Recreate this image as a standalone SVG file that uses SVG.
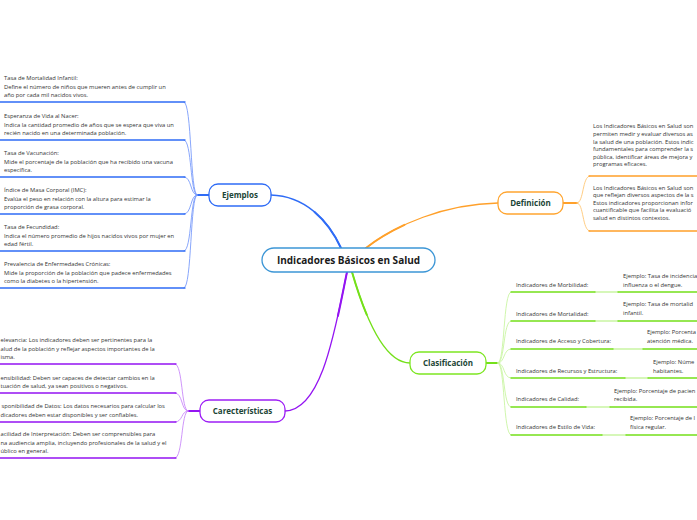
<svg xmlns="http://www.w3.org/2000/svg" width="697" height="520" viewBox="0 0 697 520">
<style>
  .bg{fill:#ffffff}
  .t{font-family:"Open Sans","Noto Sans",sans-serif;font-size:5.8px;fill:#333333}
  .nl{font-family:"Open Sans","Noto Sans",sans-serif;font-size:8px;font-weight:bold;fill:#1c4536;text-anchor:middle}
  .ct{font-family:"Open Sans","Noto Sans",sans-serif;font-size:10px;font-weight:bold;fill:#1a1a1a;text-anchor:middle}
  .box{fill:#ffffff;stroke-width:1.3}
  .c{fill:none;stroke-linecap:round}
  .thick{stroke-width:2;stroke-dasharray:45 1000}
  .blue{stroke:#2f6cf6}
  .blueL{stroke:#7b9cfa}
  .orange{stroke:#ffa02a}
  .orangeL{stroke:#ffc776}
  .green{stroke:#74e01a}
  .greenL{stroke:#c9f5a3}
  .purple{stroke:#9414f2}
  .purpleL{stroke:#c98af9}
</style>
<rect class="bg" x="0" y="0" width="697" height="520"/>

<g id="connectors">
  <!-- main branches -->
  <path class="c blue" stroke-width="1.3" d="M341,248 C328,220 305,196 271,195"/>
  <path class="c blue thick" d="M341,248 C328,220 305,196 271,195"/>
  <path class="c orange" stroke-width="1.3" d="M366,248 C395,225 445,204 498,203"/>
  <path class="c orange thick" d="M366,248 C395,225 445,204 498,203"/>
  <path class="c green" stroke-width="1.3" d="M352,272 C366,320 385,363 410,363"/>
  <path class="c green thick" d="M352,272 C366,320 385,363 410,363"/>
  <path class="c purple" stroke-width="1.3" d="M347,272 C335,330 322,410 285,411"/>
  <path class="c purple thick" d="M347,272 C335,330 322,410 285,411"/>

  <!-- Ejemplos children -->
  <path class="c blue" stroke-width="2" d="M197,195 L209,195"/>
  <g class="c blueL" stroke-width="0.9">
    <path d="M197,195 C190,195 192,102 184,102"/>
    <path d="M197,195 C190,195 192,140 184,140"/>
    <path d="M197,195 C190,195 192,177 184,177"/>
    <path d="M197,195 C190,195 192,214 184,214"/>
    <path d="M197,195 C190,195 192,251 184,251"/>
    <path d="M197,195 C190,195 192,288 184,288"/>
  </g>
  <g class="c blue" stroke-width="1.4">
    <path d="M0,102 L185,102"/>
    <path d="M0,140 L185,140"/>
    <path d="M0,177 L185,177"/>
    <path d="M0,214 L185,214"/>
    <path d="M0,251 L185,251"/>
    <path d="M0,288 L185,288"/>
  </g>

  <!-- Caracteristicas children -->
  <path class="c purple" stroke-width="2" d="M188,411 L200,411"/>
  <g class="c purpleL" stroke-width="0.9">
    <path d="M188,411 C181,411 183,364 175,364"/>
    <path d="M188,411 C181,411 183,393 175,393"/>
    <path d="M188,411 C181,411 183,422 175,422"/>
    <path d="M188,411 C181,411 183,458 175,458"/>
  </g>
  <g class="c purple" stroke-width="1.4">
    <path d="M0,364 L176,364"/>
    <path d="M0,393 L176,393"/>
    <path d="M0,422 L176,422"/>
    <path d="M0,458 L176,458"/>
  </g>

  <!-- Definicion children -->
  <path class="c orange" stroke-width="2" d="M563,203 L577,203"/>
  <g class="c orangeL" stroke-width="0.9">
    <path d="M577,203 C584,203 582,176 590,176"/>
    <path d="M577,203 C584,203 582,231 590,231"/>
  </g>
  <g class="c orange" stroke-width="1.4">
    <path d="M589,176 L697,176"/>
    <path d="M589,231 L697,231"/>
  </g>

  <!-- Clasificacion children -->
  <path class="c green" stroke-width="2" d="M486,363 L498,363"/>
  <g class="c greenL" stroke-width="0.9">
    <path d="M498,363 C505,363 503,292 511,292"/>
    <path d="M498,363 C505,363 503,321 511,321"/>
    <path d="M498,363 C505,363 503,349 511,349"/>
    <path d="M498,363 C505,363 503,378 511,378"/>
    <path d="M498,363 C505,363 503,407 511,407"/>
    <path d="M498,363 C505,363 503,435 511,435"/>
  </g>
  <g class="c greenL" stroke-width="1.4">
    <path d="M595,292 L618,292"/>
    <path d="M595,321 L618,321"/>
    <path d="M613,349 L643,349"/>
    <path d="M625,378 L648,378"/>
    <path d="M586,407 L610,407"/>
    <path d="M602,435 L626,435"/>
  </g>
  <g class="c green" stroke-width="1.4">
    <path d="M511,292 L595,292"/><path d="M618,292 L697,292"/>
    <path d="M511,321 L595,321"/><path d="M618,321 L697,321"/>
    <path d="M511,349 L613,349"/><path d="M643,349 L697,349"/>
    <path d="M511,378 L625,378"/><path d="M648,378 L697,378"/>
    <path d="M511,407 L586,407"/><path d="M610,407 L697,407"/>
    <path d="M511,435 L602,435"/><path d="M626,435 L697,435"/>
  </g>
</g>

<g id="central">
  <rect class="box" x="262" y="248" width="173" height="24" rx="12" stroke="#3c96d6"/>
  <text class="ct" x="348.5" y="263.5">Indicadores Básicos en Salud</text>
</g>

<g id="ejemplos">
  <rect class="box" x="209" y="184" width="62" height="22" rx="9" stroke="#2f6cf6"/>
  <text class="nl" x="240" y="198">Ejemplos</text>
</g>
<g id="definicion">
  <rect class="box" x="498" y="192" width="65" height="22" rx="9" stroke="#ffa530"/>
  <text class="nl" x="530.5" y="206">Definición</text>
</g>
<g id="clasificacion">
  <rect class="box" x="410" y="352" width="76" height="22" rx="9" stroke="#7de622"/>
  <text class="nl" x="448" y="366">Clasificación</text>
</g>
<g id="caracteristicas">
  <rect class="box" x="200" y="400" width="85" height="22" rx="9" stroke="#9d1ff5"/>
  <text class="nl" x="242.5" y="414">Carecterísticas</text>
</g>

<g id="ej-1"><text class="t" x="4" y="79.5">Tasa de Mortalidad Infantil:</text><text class="t" x="4" y="88.5">Define el número de niños que mueren antes de cumplir un</text><text class="t" x="4" y="96.5">año por cada mil nacidos vivos.</text></g>
<g id="ej-2"><text class="t" x="4" y="117.5">Esperanza de Vida al Nacer:</text><text class="t" x="4" y="126.5">Indica la cantidad promedio de años que se espera que viva un</text><text class="t" x="4" y="134.5">recién nacido en una determinada población.</text></g>
<g id="ej-3"><text class="t" x="4" y="154.5">Tasa de Vacunación:</text><text class="t" x="4" y="163.5">Mide el porcentaje de la población que ha recibido una vacuna</text><text class="t" x="4" y="171.5">específica.</text></g>
<g id="ej-4"><text class="t" x="4" y="191.5">Índice de Masa Corporal (IMC):</text><text class="t" x="4" y="200.5">Evalúa el peso en relación con la altura para estimar la</text><text class="t" x="4" y="208.5">proporción de grasa corporal.</text></g>
<g id="ej-5"><text class="t" x="4" y="228.5">Tasa de Fecundidad:</text><text class="t" x="4" y="237.5">Indica el número promedio de hijos nacidos vivos por mujer en</text><text class="t" x="4" y="245.5">edad fértil.</text></g>
<g id="ej-6"><text class="t" x="4" y="265.5">Prevalencia de Enfermedades Crónicas:</text><text class="t" x="4" y="274.5">Mide la proporción de la población que padece enfermedades</text><text class="t" x="4" y="282.5">como la diabetes o la hipertensión.</text></g>

<g id="car-1"><text class="t" x="0.5" y="342">elevancia: Los indicadores deben ser pertinentes para la</text><text class="t" x="0.5" y="351">alud de la población y reflejar aspectos importantes de la</text><text class="t" x="0.5" y="359">isma.</text></g>
<g id="car-2"><text class="t" x="0.5" y="379.5">ensibilidad: Deben ser capaces de detectar cambios en la</text><text class="t" x="0.5" y="388">tuación de salud, ya sean positivos o negativos.</text></g>
<g id="car-3"><text class="t" x="1.5" y="408">sponibilidad de Datos: Los datos necesarios para calcular los</text><text class="t" x="0.5" y="416.5">dicadores deben estar disponibles y ser confiables.</text></g>
<g id="car-4"><text class="t" x="0.5" y="435.5">acilidad de Interpretación: Deben ser comprensibles para</text><text class="t" x="0.5" y="444.5">na audiencia amplia, incluyendo profesionales de la salud y el</text><text class="t" x="0.5" y="453">úblico en general.</text></g>

<g id="def-1">
  <text class="t" x="593" y="128">Los Indicadores Básicos en Salud son</text>
  <text class="t" x="593" y="136">permiten medir y evaluar diversos as</text>
  <text class="t" x="593" y="143.5">la salud de una población. Estos indic</text>
  <text class="t" x="593" y="151">fundamentales para comprender la s</text>
  <text class="t" x="593" y="158.5">pública, identificar áreas de mejora y</text>
  <text class="t" x="593" y="166">programas eficaces.</text>
</g>
<g id="def-2">
  <text class="t" x="593" y="189.5">Los Indicadores Básicos en Salud son</text>
  <text class="t" x="593" y="197">que reflejan diversos aspectos de la s</text>
  <text class="t" x="593" y="204.5">Estos indicadores proporcionan infor</text>
  <text class="t" x="593" y="212">cuantificable que facilita la evaluació</text>
  <text class="t" x="593" y="219.5">salud en distintos contextos.</text>
</g>

<g id="cl-1"><text class="t" x="516" y="287">Indicadores de Morbilidad:</text><text class="t" x="623" y="278">Ejemplo: Tasa de incidencia</text><text class="t" x="623" y="286.5">influenza o el dengue.</text></g>
<g id="cl-2"><text class="t" x="516" y="315.5">Indicadores de Mortalidad:</text><text class="t" x="623" y="305.5">Ejemplo: Tasa de mortalid</text><text class="t" x="623" y="315">infantil.</text></g>
<g id="cl-3"><text class="t" x="516" y="343">Indicadores de Acceso y Cobertura:</text><text class="t" x="647" y="334">Ejemplo: Porcenta</text><text class="t" x="647" y="342.5">atención médica.</text></g>
<g id="cl-4"><text class="t" x="516" y="373">Indicadores de Recursos y Estructura:</text><text class="t" x="653" y="364">Ejemplo: Núme</text><text class="t" x="653" y="373">habitantes.</text></g>
<g id="cl-5"><text class="t" x="516" y="400.5">Indicadores de Calidad:</text><text class="t" x="614" y="393">Ejemplo: Porcentaje de pacien</text><text class="t" x="614" y="400.5">recibida.</text></g>
<g id="cl-6"><text class="t" x="516" y="429">Indicadores de Estilo de Vida:</text><text class="t" x="630" y="420">Ejemplo: Porcentaje de l</text><text class="t" x="630" y="429">física regular.</text></g>
</svg>
